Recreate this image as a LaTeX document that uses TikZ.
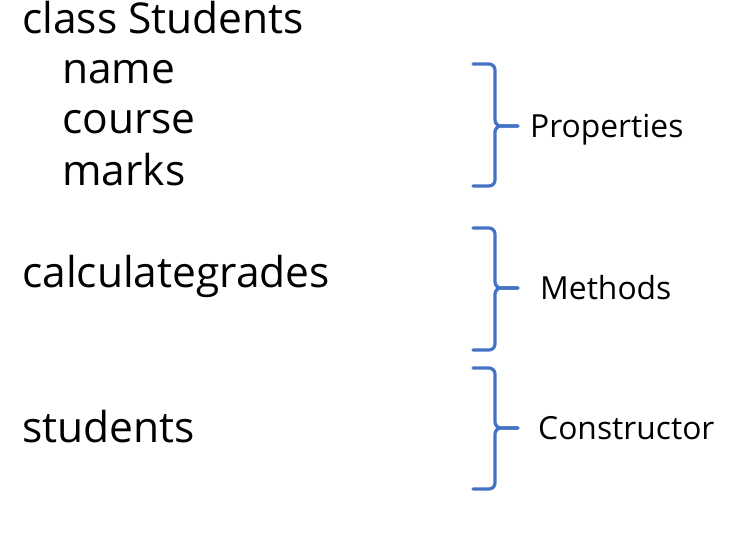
\documentclass[tikz,border=0pt]{standalone}
\usepackage{fontspec}
\setmainfont{Open Sans}
\usepackage{xcolor}
\usetikzlibrary{positioning}
\definecolor{bracestroke}{HTML}{4472C4}

\begin{document}
\begin{tikzpicture}[
    x=1pt, y=-1pt,
    code/.style={anchor=base west, inner sep=0pt, font=\fontsize{42.5}{48}\selectfont},
    part/.style={anchor=base west, inner sep=0pt, font=\fontsize{31.8}{36}\selectfont},
    brc/.style={draw=bracestroke, line width=3.2pt, rounded corners=6pt, line cap=round}
]
\useasboundingbox (0,0) rectangle (752,550);

% class and its members
\node[code] (cls)    at (22, 33)  {class Students};
\node[code] (name)   at (62, 83)  {name};
\node[code] (course) at (62, 133) {course};
\node[code] (marks)  at (62, 185) {marks};
\node[code] (calc)   at (22, 287) {calculategrades};
\node[code] (stud)   at (22, 442) {students};

% brace ends
\coordinate (pt) at (473, 64);   \coordinate (pb) at (473, 186); \coordinate (pm) at (495, 126); \coordinate (ptip) at (518, 126);
\coordinate (mt) at (473, 228);  \coordinate (mb) at (473, 350); \coordinate (mm) at (495, 288); \coordinate (mtip) at (518, 288);
\coordinate (ct) at (473, 368);  \coordinate (cb) at (473, 489); \coordinate (cm) at (495, 428); \coordinate (ctip) at (518, 428);

\draw[brc] (pt) -| (pm) -- (ptip);
\draw[brc] (ptip) -- (pm) |- (pb);
\draw[brc] (mt) -| (mm) -- (mtip);
\draw[brc] (mtip) -- (mm) |- (mb);
\draw[brc] (ct) -| (cm) -- (ctip);
\draw[brc] (ctip) -- (cm) |- (cb);

\node[part] (props) at (530, 137) {Properties};
\node[part] (meth)  at (540, 299) {Methods};
\node[part] (cons)  at (538, 439) {Constructor};

\end{tikzpicture}
\end{document}
